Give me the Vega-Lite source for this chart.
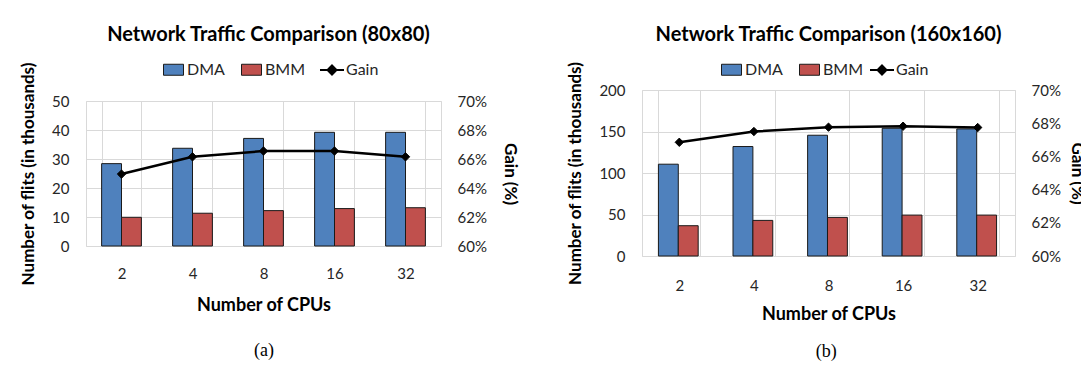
{
  "$schema": "https://vega.github.io/schema/vega-lite/v6.json",
  "background": "white",
  "padding": {"left": 19, "top": 23, "right": 0, "bottom": 0},
  "spacing": 47,
  "columns": 2,
  "align": "none",
  "resolve": {"scale": {"color": "independent", "stroke": "independent"}, "legend": {"color": "independent", "stroke": "independent"}},
  "config": {
    "font": "Lato",
    "view": {"stroke": "#d9d9d9"},
    "axis": {
      "labelFont": "Lato", "labelFontSize": 15, "labelColor": "#262626",
      "titleFont": "Lato", "titleFontSize": 17, "titleFontWeight": "bold", "titleColor": "#000000",
      "gridColor": "#d9d9d9", "ticks": false, "domain": false
    },
    "title": {"font": "Lato", "fontSize": 20, "fontWeight": "bold", "color": "#000000"},
    "legend": {
      "orient": "none", "direction": "horizontal", "padding": 0,
      "labelFont": "Lato", "labelFontSize": 16, "labelColor": "#262626",
      "symbolSize": 400, "labelOffset": 3, "columnPadding": 14, "symbolOpacity": 1
    }
  },
  "datasets": {
    "spacer": [],
    "a_bars": [
      {"cpu": "2", "series": "DMA", "value": 28.4},
      {"cpu": "4", "series": "DMA", "value": 33.7},
      {"cpu": "8", "series": "DMA", "value": 37.1},
      {"cpu": "16", "series": "DMA", "value": 39.2},
      {"cpu": "32", "series": "DMA", "value": 39.2},
      {"cpu": "2", "series": "BMM", "value": 9.9},
      {"cpu": "4", "series": "BMM", "value": 11.3},
      {"cpu": "8", "series": "BMM", "value": 12.2},
      {"cpu": "16", "series": "BMM", "value": 12.9},
      {"cpu": "32", "series": "BMM", "value": 13.2}
    ],
    "a_gain": [
      {"cpu": "2", "gain": 0.6496},
      {"cpu": "4", "gain": 0.6615},
      {"cpu": "8", "gain": 0.6655},
      {"cpu": "16", "gain": 0.6655},
      {"cpu": "32", "gain": 0.6615}
    ],
    "b_bars": [
      {"cpu": "2", "series": "DMA", "value": 110.6},
      {"cpu": "4", "series": "DMA", "value": 131.9},
      {"cpu": "8", "series": "DMA", "value": 145.5},
      {"cpu": "16", "series": "DMA", "value": 153.9},
      {"cpu": "32", "series": "DMA", "value": 153.1},
      {"cpu": "2", "series": "BMM", "value": 36.5},
      {"cpu": "4", "series": "BMM", "value": 42.9},
      {"cpu": "8", "series": "BMM", "value": 46.5},
      {"cpu": "16", "series": "BMM", "value": 49.3},
      {"cpu": "32", "series": "BMM", "value": 49.3}
    ],
    "b_gain": [
      {"cpu": "2", "gain": 0.6685},
      {"cpu": "4", "gain": 0.675},
      {"cpu": "8", "gain": 0.6776},
      {"cpu": "16", "gain": 0.6782},
      {"cpu": "32", "gain": 0.6774}
    ]
  },
  "concat": [
    {
      "title": {"text": "(a)", "orient": "bottom", "anchor": "middle", "font": "Liberation Serif", "fontSize": 18, "fontWeight": "normal", "offset": 27, "dx": -5},
      "spacing": 0,
      "resolve": {"scale": {"color": "independent", "stroke": "independent"}, "legend": {"color": "independent", "stroke": "independent"}},
      "vconcat": [
        {"width": 1, "height": 1, "data": {"name": "spacer"}, "mark": "point", "encoding": {}, "view": {"stroke": null}},
        {
          "width": 355, "height": 145,
          "title": {"text": "Network Traffic Comparison (80x80)", "offset": 14, "dx": 5},
          "layer": [
            {
              "data": {"name": "a_bars"},
              "mark": {"type": "bar", "stroke": "#1a1a1a", "strokeWidth": 1},
              "encoding": {
                "x": {"field": "cpu", "type": "ordinal", "sort": ["2", "4", "8", "16", "32"],
                      "scale": {"paddingInner": 0.44, "paddingOuter": 0.22},
                      "axis": {"title": "Number of CPUs", "titleFontSize": 18, "labelAngle": 0, "labelPadding": 20, "titlePadding": 15, "grid": true, "tickBand": "extent"}},
                "xOffset": {"field": "series", "sort": ["DMA", "BMM"]},
                "y": {"field": "value", "type": "quantitative", "scale": {"domain": [0, 50]},
                      "axis": {"title": "Number of flits (in thousands)", "values": [0, 10, 20, 30, 40, 50], "labelPadding": 17, "titlePadding": 14, "grid": true}},
                "color": {"field": "series", "type": "nominal", "sort": ["DMA", "BMM"],
                          "scale": {"domain": ["DMA", "BMM"], "range": ["#4f81bd", "#c0504d"]},
                          "legend": {"title": null, "legendX": 77, "legendY": -42, "columns": 2,
                                     "symbolType": "M-1,-0.55L1,-0.55L1,0.55L-1,0.55Z", "symbolStrokeColor": "#1a1a1a", "symbolStrokeWidth": 1}}
              }
            },
            {
              "data": {"name": "a_gain"},
              "encoding": {
                "x": {"field": "cpu", "type": "ordinal", "sort": ["2", "4", "8", "16", "32"]},
                "y": {"field": "gain", "type": "quantitative", "scale": {"domain": [0.6, 0.7]},
                      "axis": {"orient": "right", "format": ".0%", "values": [0.6, 0.62, 0.64, 0.66, 0.68, 0.7], "title": "Gain (%)", "grid": false, "labelPadding": 16, "titlePadding": 14}}
              },
              "layer": [
                {"mark": {"type": "line", "strokeWidth": 2.5, "color": "#000000"}, "encoding": {}},
                {"mark": {"type": "point", "shape": "diamond", "filled": true, "size": 70, "fill": "#000000", "strokeWidth": 1, "opacity": 1},
                 "encoding": {"stroke": {"datum": "Gain", "type": "nominal", "scale": {"range": ["#000000"]},
                   "legend": {"title": null, "legendX": 235, "legendY": -42,
                              "symbolType": "M-1.2,0L1.2,0M0,-0.45L0.45,0L0,0.45L-0.45,0Z", "symbolFillColor": "#000000", "symbolStrokeColor": "#000000", "symbolStrokeWidth": 2}}}}
              ]
            }
          ],
          "resolve": {"scale": {"y": "independent"}}
        }
      ]
    },
    {
      "title": {"text": "(b)", "orient": "bottom", "anchor": "middle", "font": "Liberation Serif", "fontSize": 18, "fontWeight": "normal", "offset": 19},
      "spacing": 0,
      "resolve": {"scale": {"color": "independent", "stroke": "independent"}, "legend": {"color": "independent", "stroke": "independent"}},
      "vconcat": [
        {"width": 1, "height": 1, "data": {"name": "spacer"}, "mark": "point", "encoding": {}, "view": {"stroke": null}},
        {
          "width": 373, "height": 166,
          "title": {"text": "Network Traffic Comparison (160x160)", "offset": 14},
          "layer": [
            {
              "data": {"name": "b_bars"},
              "mark": {"type": "bar", "stroke": "#1a1a1a", "strokeWidth": 1},
              "encoding": {
                "x": {"field": "cpu", "type": "ordinal", "sort": ["2", "4", "8", "16", "32"],
                      "scale": {"paddingInner": 0.44, "paddingOuter": 0.22},
                      "axis": {"title": "Number of CPUs", "titleFontSize": 18, "labelAngle": 0, "labelPadding": 22, "titlePadding": 12, "grid": true, "tickBand": "extent"}},
                "xOffset": {"field": "series", "sort": ["DMA", "BMM"]},
                "y": {"field": "value", "type": "quantitative", "scale": {"domain": [0, 200]},
                      "axis": {"title": "Number of flits (in thousands)", "values": [0, 50, 100, 150, 200], "labelPadding": 17, "titlePadding": 14, "grid": true}},
                "color": {"field": "series", "type": "nominal", "sort": ["DMA", "BMM"],
                          "scale": {"domain": ["DMA", "BMM"], "range": ["#4f81bd", "#c0504d"]},
                          "legend": {"title": null, "legendX": 79, "legendY": -31, "columns": 2,
                                     "symbolType": "M-1,-0.55L1,-0.55L1,0.55L-1,0.55Z", "symbolStrokeColor": "#1a1a1a", "symbolStrokeWidth": 1}}
              }
            },
            {
              "data": {"name": "b_gain"},
              "encoding": {
                "x": {"field": "cpu", "type": "ordinal", "sort": ["2", "4", "8", "16", "32"]},
                "y": {"field": "gain", "type": "quantitative", "scale": {"domain": [0.6, 0.7]},
                      "axis": {"orient": "right", "format": ".0%", "values": [0.6, 0.62, 0.64, 0.66, 0.68, 0.7], "title": "Gain (%)", "grid": false, "labelPadding": 16, "titlePadding": 7}}
              },
              "layer": [
                {"mark": {"type": "line", "strokeWidth": 2.5, "color": "#000000"}, "encoding": {}},
                {"mark": {"type": "point", "shape": "diamond", "filled": true, "size": 70, "fill": "#000000", "strokeWidth": 1, "opacity": 1},
                 "encoding": {"stroke": {"datum": "Gain", "type": "nominal", "scale": {"range": ["#000000"]},
                   "legend": {"title": null, "legendX": 229, "legendY": -31,
                              "symbolType": "M-1.2,0L1.2,0M0,-0.45L0.45,0L0,0.45L-0.45,0Z", "symbolFillColor": "#000000", "symbolStrokeColor": "#000000", "symbolStrokeWidth": 2}}}}
              ]
            }
          ],
          "resolve": {"scale": {"y": "independent"}}
        }
      ]
    }
  ]
}
